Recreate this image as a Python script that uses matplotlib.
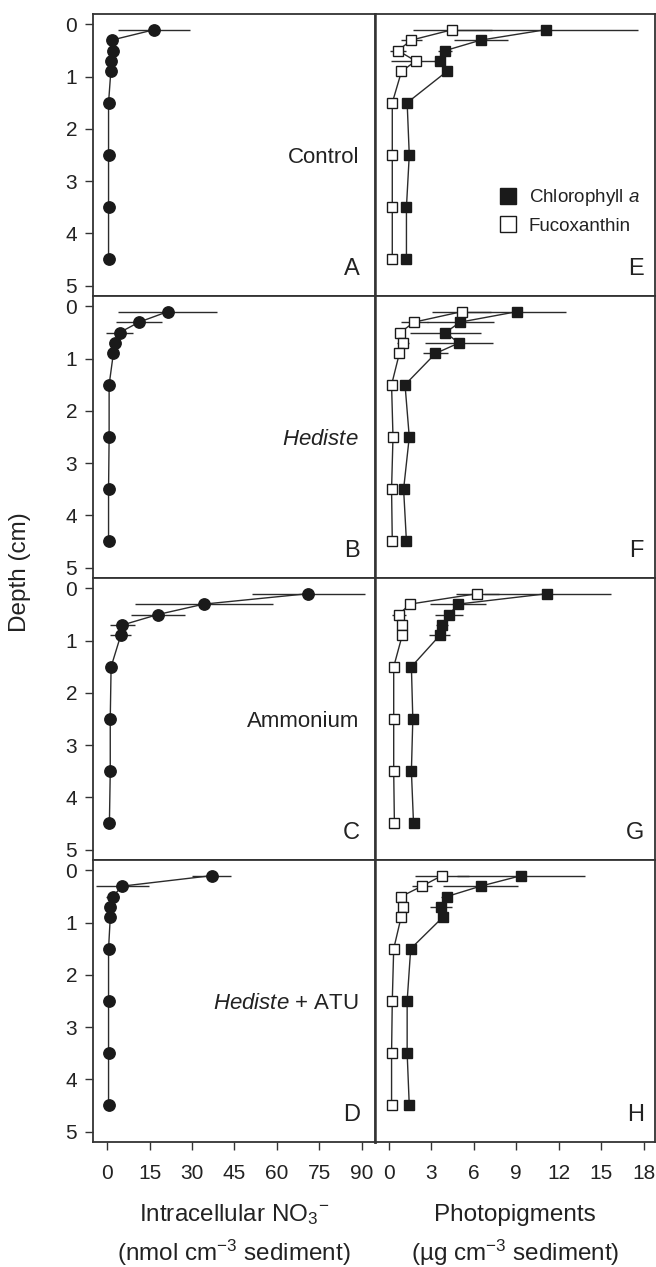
import numpy as np
import matplotlib
matplotlib.use("Agg")
import matplotlib.pyplot as plt
from matplotlib.lines import Line2D

plt.rcParams['font.family'] = ['Liberation Sans', 'DejaVu Sans']
plt.rcParams['mathtext.fontset'] = 'custom'
plt.rcParams['mathtext.rm'] = 'Liberation Sans'
plt.rcParams['mathtext.it'] = 'Liberation Sans:italic'

# Sampling depths (cm)
depth = [0.1, 0.3, 0.5, 0.7, 0.9, 1.5, 2.5, 3.5, 4.5]

# Intracellular NO3- (nmol cm-3 sediment), panels A-D
no3_control = [16.7, 1.6, 2.2, 1.4, 1.3, 0.5, 0.5, 0.5, 0.5]
no3_control_err = [12.7, 0.3, 0.3, 0.3, 0.3, 0.2, 0.2, 0.2, 0.2]
no3_hediste = [21.4, 11.3, 4.4, 2.8, 2.2, 0.7, 0.7, 0.5, 0.5]
no3_hediste_err = [17.4, 8.0, 4.7, 1.0, 0.5, 0.3, 0.2, 0.2, 0.2]
no3_ammonium = [71.1, 34.2, 17.9, 5.4, 4.8, 1.4, 1.1, 1.1, 0.8]
no3_ammonium_err = [20.0, 24.4, 9.5, 4.4, 3.8, 0.5, 0.3, 0.3, 0.2]
no3_atu = [36.9, 5.4, 1.9, 1.1, 1.1, 0.5, 0.5, 0.5, 0.5]
no3_atu_err = [7.0, 9.5, 2.3, 0.5, 0.3, 0.2, 0.2, 0.2, 0.2]

# Chlorophyll a (ug cm-3 sediment), panels E-H
chl_control = [11.1, 6.5, 4.0, 3.6, 4.1, 1.3, 1.45, 1.25, 1.25]
chl_control_err = [6.5, 1.9, 0.5, 0.4, 0.3, 0.2, 0.2, 0.2, 0.2]
chl_hediste = [9.05, 5.05, 4.0, 4.95, 3.3, 1.15, 1.45, 1.05, 1.25]
chl_hediste_err = [3.5, 2.35, 2.5, 2.4, 0.85, 0.3, 0.2, 0.2, 0.2]
chl_ammonium = [11.2, 4.9, 4.25, 3.75, 3.6, 1.6, 1.7, 1.6, 1.75]
chl_ammonium_err = [4.5, 2.0, 1.0, 0.4, 0.75, 0.2, 0.2, 0.3, 0.2]
chl_atu = [9.35, 6.5, 4.1, 3.7, 3.8, 1.55, 1.3, 1.3, 1.45]
chl_atu_err = [4.5, 2.65, 0.4, 0.8, 0.2, 0.2, 0.2, 0.2, 0.2]

# Fucoxanthin (ug cm-3 sediment), panels E-H
fuco_control = [4.5, 1.6, 0.65, 1.9, 0.9, 0.25, 0.25, 0.25, 0.25]
fuco_control_err = [2.8, 0.75, 0.55, 1.75, 0.2, 0.1, 0.1, 0.1, 0.1]
fuco_hediste = [5.15, 1.8, 0.8, 1.0, 0.75, 0.2, 0.3, 0.2, 0.25]
fuco_hediste_err = [2.1, 0.95, 0.3, 0.4, 0.2, 0.1, 0.1, 0.1, 0.1]
fuco_ammonium = [6.25, 1.5, 0.7, 0.95, 0.95, 0.35, 0.35, 0.35, 0.4]
fuco_ammonium_err = [1.5, 0.3, 0.5, 0.2, 0.2, 0.1, 0.1, 0.1, 0.1]
fuco_atu = [3.75, 2.35, 0.87, 1.0, 0.87, 0.35, 0.25, 0.2, 0.2]
fuco_atu_err = [1.9, 0.7, 0.2, 0.2, 0.2, 0.1, 0.1, 0.1, 0.1]

treatments = ['Control', r'$\it{Hediste}$', 'Ammonium', r'$\it{Hediste}$ + ATU']
left_letters = ['A', 'B', 'C', 'D']
right_letters = ['E', 'F', 'G', 'H']
no3_ticks = [0, 15, 30, 45, 60, 75, 90]
pig_ticks = [0, 3, 6, 9, 12, 15, 18]
depth_ticks = [0, 1, 2, 3, 4, 5]

DARK = '#1a1a1a'
LINE = '#2b2b2b'
SPINE = '#333333'
TEXT = '#222222'


def style_axes(ax):
    for sp in ax.spines.values():
        sp.set_color(SPINE)
        sp.set_linewidth(1.3)
    ax.set_ylim(5.2, -0.2)
    ax.tick_params(colors=SPINE, labelcolor=TEXT, labelsize=15,
                   direction='out', length=5.5, width=1.0)


def profile(ax, x, err, marker, face, ms):
    ax.errorbar(x, depth, xerr=err, fmt='none', ecolor=LINE, elinewidth=1.0,
                capsize=0, zorder=2)
    ax.plot(x, depth, '-', color=LINE, lw=1.0, marker=marker, ms=ms,
            mfc=face, mec=DARK, mew=1.0, zorder=3)


def main():
    W, H = 656, 1267
    fig = plt.figure(figsize=(W / 100, H / 100), dpi=100)

    top = 14
    row_h = 282
    lx, lw = 93, 282
    rx, rw = 375, 280

    no3_sets = [(no3_control, no3_control_err), (no3_hediste, no3_hediste_err),
                (no3_ammonium, no3_ammonium_err), (no3_atu, no3_atu_err)]
    chl_sets = [(chl_control, chl_control_err), (chl_hediste, chl_hediste_err),
                (chl_ammonium, chl_ammonium_err), (chl_atu, chl_atu_err)]
    fuco_sets = [(fuco_control, fuco_control_err), (fuco_hediste, fuco_hediste_err),
                 (fuco_ammonium, fuco_ammonium_err), (fuco_atu, fuco_atu_err)]

    for i in range(4):
        bottom = 1 - (top + row_h * (i + 1)) / H
        axl = fig.add_axes([lx / W, bottom, lw / W, row_h / H])
        axr = fig.add_axes([rx / W, bottom, rw / W, row_h / H])

        # left: intracellular nitrate
        style_axes(axl)
        axl.spines['right'].set_linewidth(1.8)
        axl.set_xlim(-5, 94.7)
        profile(axl, no3_sets[i][0], no3_sets[i][1], 'o', DARK, 8.2)
        axl.set_yticks(depth_ticks)
        axl.tick_params(axis='y', pad=6)
        axl.text(0.943, 2.55, treatments[i], transform=axl.get_yaxis_transform(),
                 ha='right', va='center', fontsize=16, color=TEXT)
        axl.text(0.947, 0.075, left_letters[i], transform=axl.transAxes,
                 ha='right', va='baseline', fontsize=17, color=TEXT)

        # right: photopigments
        style_axes(axr)
        axr.spines['left'].set_linewidth(1.8)
        axr.set_xlim(-0.97, 18.8)
        profile(axr, chl_sets[i][0], chl_sets[i][1], 's', DARK, 7.5)
        profile(axr, fuco_sets[i][0], fuco_sets[i][1], 's', 'white', 7.5)
        axr.set_yticks(depth_ticks)
        axr.tick_params(axis='y', length=0, labelleft=False)
        axr.text(0.96, 0.075, right_letters[i], transform=axr.transAxes,
                 ha='right', va='baseline', fontsize=17, color=TEXT)

        axl.set_xticks(no3_ticks)
        axr.set_xticks(pig_ticks)
        if i < 3:
            axl.tick_params(axis='x', length=0, labelbottom=False)
            axr.tick_params(axis='x', length=0, labelbottom=False)
        else:
            axl.tick_params(axis='x', pad=10)
            axr.tick_params(axis='x', pad=10)

        if i == 0:
            handles = [Line2D([], [], ls='none', marker='s', ms=11, mfc=DARK, mec=DARK),
                       Line2D([], [], ls='none', marker='s', ms=11, mfc='white', mec=DARK, mew=1.0)]
            axr.legend(handles, [r'Chlorophyll $\it{a}$', 'Fucoxanthin'],
                       loc='center left', bbox_to_anchor=(0.441, 0.301),
                       frameon=False, fontsize=13.5, handlelength=1.0,
                       handletextpad=0.62, labelspacing=0.52, borderpad=0,
                       borderaxespad=0, labelcolor=TEXT)

    # axis labels
    fig.text(20 / W, 1 - 572 / H, 'Depth (cm)', rotation=90, ha='center', va='center',
             fontsize=17.5, color=TEXT)
    fig.text((lx + lw / 2) / W, 1 - 1215 / H, r'Intracellular NO$_3$$^{-}$',
             ha='center', va='center', fontsize=17.5, color=TEXT)
    fig.text((lx + lw / 2) / W, 1 - 1253 / H, r'(nmol cm$^{-3}$ sediment)',
             ha='center', va='center', fontsize=17.5, color=TEXT)
    fig.text((rx + rw / 2) / W, 1 - 1215 / H, 'Photopigments',
             ha='center', va='center', fontsize=17.5, color=TEXT)
    fig.text((rx + rw / 2) / W, 1 - 1253 / H, '(\u00b5g cm$^{-3}$ sediment)',
             ha='center', va='center', fontsize=17.5, color=TEXT)

    fig.savefig('out.png', dpi=100)


if __name__ == '__main__':
    main()
